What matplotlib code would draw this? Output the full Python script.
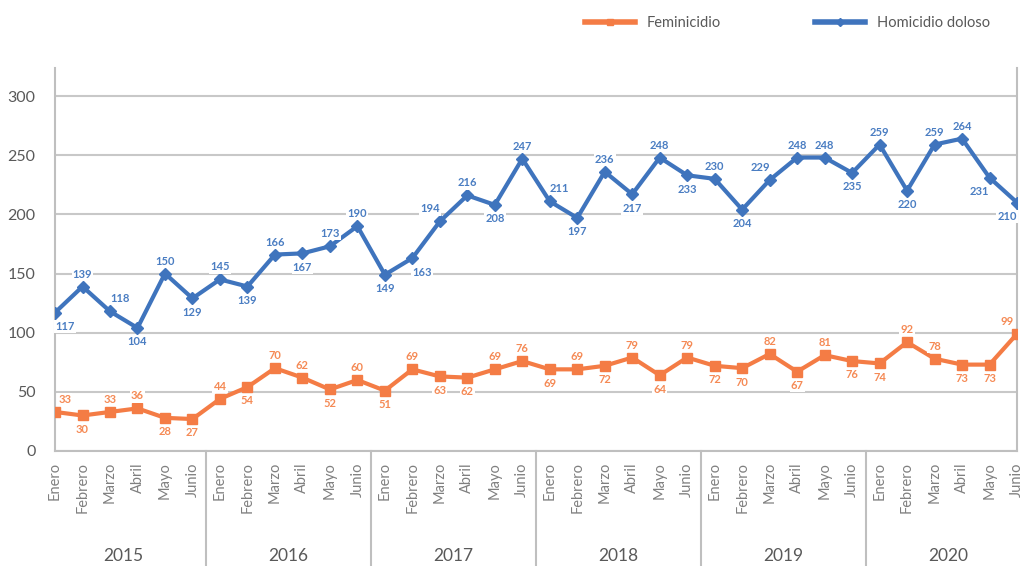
import matplotlib.pyplot as plt
import numpy as np

plt.rcParams['font.family'] = ['Lato', 'DejaVu Sans']

years = ['2015', '2016', '2017', '2018', '2019', '2020']
meses = ['Enero', 'Febrero', 'Marzo', 'Abril', 'Mayo', 'Junio']

homicidio = [117, 139, 118, 104, 150, 129,
             145, 139, 166, 167, 173, 190,
             149, 163, 194, 216, 208, 247,
             211, 197, 236, 217, 248, 233,
             230, 204, 229, 248, 248, 235,
             259, 220, 259, 264, 231, 210]
feminicidio = [33, 30, 33, 36, 28, 27,
               44, 54, 70, 62, 52, 60,
               51, 69, 63, 62, 69, 76,
               69, 69, 72, 79, 64, 79,
               72, 70, 82, 67, 81, 76,
               74, 92, 78, 73, 73, 99]

# donde va cada etiqueta: a=arriba, b=abajo, r/l=desplazada
pos_hom = ['br', 'a', 'ar', 'b', 'a', 'b',
           'a', 'b', 'a', 'b', 'a', 'a',
           'b', 'br', 'al', 'a', 'b', 'a',
           'ar', 'b', 'a', 'b', 'a', 'b',
           'a', 'b', 'al', 'a', 'a', 'b',
           'a', 'b', 'a', 'a', 'bl', 'bl']
pos_fem = ['ar', 'b', 'a', 'a', 'b', 'b',
           'a', 'b', 'a', 'a', 'b', 'a',
           'b', 'a', 'b', 'b', 'a', 'a',
           'b', 'a', 'b', 'a', 'b', 'a',
           'b', 'b', 'a', 'b', 'a', 'b',
           'b', 'a', 'a', 'b', 'b', 'al']

AZUL = '#3f74bd'
NARANJA = '#f47c45'
GRIS = '#808080'

fig = plt.figure(figsize=(10.25, 5.66), dpi=100)
ax = fig.add_axes([0.0537, 0.2032, 0.9385, 0.6767])

x = np.arange(len(homicidio))
ax.plot(x, feminicidio, color=NARANJA, lw=3, marker='s', ms=7, label='Feminicidio', zorder=3)
ax.plot(x, homicidio, color=AZUL, lw=3, marker='D', ms=6, label='Homicidio doloso', zorder=3)

offs = {'a': (0, 9), 'b': (0, -10), 'ar': (7, 9), 'br': (7, -10),
        'al': (-7, 9), 'bl': (-7, -10)}


def etiquetas(vals, pos, color):
    for i, (v, p) in enumerate(zip(vals, pos)):
        dx, dy = offs[p]
        ax.annotate(str(v), (i, v), xytext=(dx, dy), textcoords='offset points',
                    ha='center', va='center', fontsize=8, fontweight='bold',
                    color=color, zorder=4,
                    bbox=dict(boxstyle='square,pad=0.1', fc='white', ec='none'))


etiquetas(homicidio, pos_hom, '#4a7dc2')
etiquetas(feminicidio, pos_fem, '#f58a55')

ax.set_xlim(0, len(x) - 1)
ax.set_ylim(0, 323.7)
ax.set_yticks(np.arange(0, 301, 50))
ax.tick_params(axis='y', length=0, labelsize=11.5, labelcolor='#595959', pad=14)
ax.yaxis.grid(True, color='#c8c8c8', lw=1.5)
ax.set_axisbelow(True)

ax.set_xticks(x)
ax.set_xticklabels(meses * len(years), rotation=90, va='top', fontsize=10.5, color=GRIS)
ax.tick_params(axis='x', length=0, pad=8)

ax.spines['top'].set_visible(False)
for s in ['left', 'right', 'bottom']:
    ax.spines[s].set_color('#bfbfbf')
    ax.spines[s].set_linewidth(1.5)

# separadores entre años y etiquetas de año
trans = ax.get_xaxis_transform()
for k in range(1, len(years)):
    xs = 6 * k - 0.5
    ax.plot([xs, xs], [0, -0.31], transform=trans, color='#bfbfbf', lw=1.5, clip_on=False)
for k, yr in enumerate(years):
    ax.text(6 * k + 2.5, -0.275, yr, transform=trans, ha='center', va='center',
            fontsize=12.5, color='#595959')

leg = fig.legend(loc='upper left', bbox_to_anchor=(0.558, 0.995), ncol=2, frameon=False,
                 fontsize=10.5, handlelength=3.4, columnspacing=6.5, labelcolor='#595959',
                 markerscale=0.7)
for h in leg.get_lines():
    h.set_linewidth(4)

fig.savefig('out.png', dpi=100)
